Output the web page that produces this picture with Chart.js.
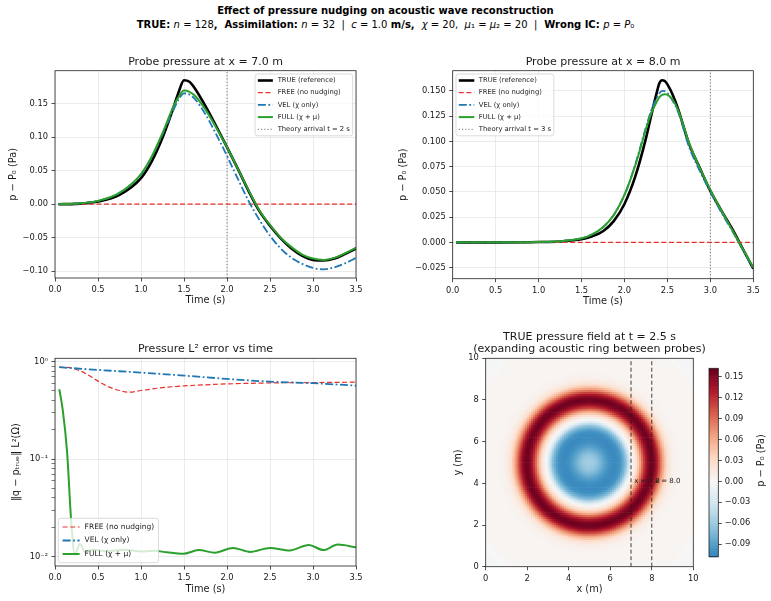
<!DOCTYPE html>
<html>
<head>
<meta charset="utf-8">
<script src="https://cdn.jsdelivr.net/npm/chart.js@4.4.1/dist/chart.umd.min.js"></script>
<style>
  body { margin: 0; background: #fff; width: 771px; height: 601px; position: relative; overflow: hidden; font-family: "DejaVu Sans", sans-serif; }
  canvas { position: absolute; }
  .sup { position: absolute; left: 0; width: 771px; text-align: center; font-size: 10px; line-height: 14px; font-weight: bold; white-space: pre; color: #000; }
  .m { font-weight: normal; }
</style>
</head>
<body>
<div class="sup" style="top:4px">Effect of pressure nudging on acoustic wave reconstruction</div>
<div class="sup" style="top:18px">TRUE: <span class="m"><i>n</i> = 128</span>,  Assimilation: <span class="m"><i>n</i> = 32  |  <i>c</i> = 1.0</span> m/s,  <span class="m"><i>χ</i> = 20,  <i>μ</i>₁ = <i>μ</i>₂ = 20  |</span>  Wrong IC: <span class="m"><i>p</i> = <i>P</i>₀</span></div>

<canvas id="probe7" width="390" height="270" style="left:0;top:40px"></canvas>
<canvas id="probe8" width="381" height="270" style="left:390px;top:40px"></canvas>
<canvas id="errL2" width="390" height="281" style="left:0;top:320px"></canvas>
<canvas id="field" width="379" height="281" style="left:400px;top:320px"></canvas>
<canvas id="cbar" width="81" height="220" style="left:690px;top:350px"></canvas>

<script>
// ---- probe at x = 7.0 m ----
const t7 = [0.04, 0.25, 0.5, 0.75, 1.0, 1.125, 1.25, 1.375, 1.4375, 1.5, 1.5625, 1.625, 1.75, 1.875, 2.0, 2.125, 2.25, 2.375, 2.5, 2.625, 2.75, 2.875, 3.0, 3.125, 3.25, 3.375, 3.5];
const true7 = [0.000, 0.0005, 0.004, 0.014, 0.039, 0.064, 0.099, 0.143, 0.167, 0.1848, 0.1825, 0.173, 0.146, 0.116, 0.085, 0.053, 0.020, -0.010, -0.032, -0.051, -0.066, -0.077, -0.083, -0.084, -0.081, -0.074, -0.066];
const vel7 = [0.000, 0.001, 0.005, 0.017, 0.044, 0.070, 0.104, 0.140, 0.156, 0.1652, 0.1635, 0.157, 0.134, 0.104, 0.072, 0.038, 0.005, -0.023, -0.047, -0.066, -0.080, -0.089, -0.095, -0.097, -0.094, -0.088, -0.080];
const full7 = [0.000, 0.001, 0.005, 0.017, 0.045, 0.071, 0.106, 0.145, 0.160, 0.1695, 0.1675, 0.162, 0.141, 0.114, 0.085, 0.053, 0.021, -0.009, -0.031, -0.050, -0.064, -0.075, -0.081, -0.083, -0.080, -0.073, -0.065];
const freeT7 = [0.04, 3.5];
const free7 = [0, 0];
const yTicks7 = [-0.10, -0.05, 0.00, 0.05, 0.10, 0.15];

// ---- probe at x = 8.0 m ----
const t8 = [0.04, 0.5, 1.0, 1.25, 1.5, 1.625, 1.75, 1.875, 2.0, 2.125, 2.25, 2.3125, 2.375, 2.40625, 2.4375, 2.46875, 2.5, 2.5625, 2.625, 2.75, 2.875, 3.0, 3.125, 3.25, 3.375, 3.5];
const true8 = [0, 0, 0.0003, 0.0009, 0.003, 0.006, 0.011, 0.021, 0.038, 0.065, 0.103, 0.126, 0.148, 0.1575, 0.1605, 0.1598, 0.1565, 0.146, 0.132, 0.098, 0.074, 0.051, 0.032, 0.014, -0.006, -0.026];
const vel8 = [0, 0, 0.0004, 0.0012, 0.004, 0.008, 0.015, 0.027, 0.047, 0.077, 0.114, 0.131, 0.143, 0.1477, 0.150, 0.1498, 0.148, 0.140, 0.129, 0.095, 0.071, 0.050, 0.030, 0.012, -0.007, -0.026];
const full8 = [0, 0, 0.0004, 0.0012, 0.004, 0.008, 0.015, 0.027, 0.047, 0.076, 0.112, 0.128, 0.139, 0.1437, 0.146, 0.1468, 0.1462, 0.141, 0.131, 0.099, 0.074, 0.052, 0.032, 0.013, -0.006, -0.025];
const freeT8 = [0.04, 3.5];
const free8 = [0, 0];
const yTicks8 = [-0.025, 0.000, 0.025, 0.050, 0.075, 0.100, 0.125, 0.150];

// ---- pressure L2 error ----
const errFreeT = [0.05, 0.15, 0.25, 0.35, 0.5, 0.625, 0.75, 0.85, 1.0, 1.25, 1.5, 1.75, 2.0, 2.5, 3.0, 3.5];
const errFree = [0.875, 0.87, 0.83, 0.76, 0.63, 0.55, 0.505, 0.485, 0.505, 0.54, 0.563, 0.578, 0.59, 0.604, 0.609, 0.615];
const errVelT = [0.05, 0.5, 1.0, 1.5, 2.0, 2.5, 3.0, 3.5];
const errVel = [0.875, 0.821, 0.771, 0.718, 0.664, 0.623, 0.600, 0.567];
const errFullT = [0.05, 0.09, 0.14, 0.19, 0.23, 0.29, 0.35, 0.45, 0.6, 0.8, 1.0, 1.15, 1.3, 1.49, 1.67, 1.86, 2.07, 2.27, 2.5, 2.73, 2.95, 3.12, 3.29, 3.5];
const errFull = [0.52, 0.32, 0.12, 0.022, 0.0105, 0.0135, 0.0112, 0.0118, 0.0114, 0.0118, 0.0113, 0.0115, 0.0111, 0.0107, 0.0117, 0.0110, 0.0123, 0.0112, 0.0123, 0.0116, 0.0132, 0.0117, 0.0133, 0.0125];
const logMajor = [0.01, 0.1, 1];
const logLabels = ['10\u207b\u00b2', '10\u207b\u00b9', '10\u2070'];
const logMinor = [0.02, 0.03, 0.04, 0.05, 0.06, 0.07, 0.08, 0.09, 0.2, 0.3, 0.4, 0.5, 0.6, 0.7, 0.8, 0.9];

// ---- TRUE field at t = 2.5 s (radial profile around the centre) ----
const fieldR = [0, 0.25, 0.5, 0.75, 1.0, 1.25, 1.5, 1.75, 1.9, 2.0, 2.1, 2.25, 2.4, 2.55, 2.7, 2.85, 3.0, 3.15, 3.3, 3.45, 3.6, 3.75, 3.9, 4.1, 4.4, 6.0, 6.6, 7.2];
const fieldP = [-0.056, -0.060, -0.072, -0.088, -0.100, -0.105, -0.098, -0.070, -0.035, -0.012, 0.002, 0.022, 0.050, 0.090, 0.125, 0.150, 0.160, 0.152, 0.125, 0.088, 0.055, 0.030, 0.015, 0.007, 0.004, 0.004, -0.003, -0.005];
const probeX = [7.0, 8.0];
const fieldTicks = [0, 2, 4, 6, 8, 10];
const cbTicks = [-0.09, -0.06, -0.03, 0.00, 0.03, 0.06, 0.09, 0.12, 0.15];
const timeTicks = [0, 0.5, 1.0, 1.5, 2.0, 2.5, 3.0, 3.5];

Chart.defaults.font.family = '"DejaVu Sans", sans-serif';
Chart.defaults.color = '#1a1a1a';
Chart.defaults.animation = false;
Chart.defaults.events = [];

const INK = '#1a1a1a';
const GRID = '#e6e6e6';
const pts = (xs, ys) => xs.map((x, i) => ({ x: x, y: ys[i] }));
const minus = d => v => (v < 0 ? '\u2212' : '') + Math.abs(v).toFixed(d);

function curve(label, data, color, width, dash, order) {
  return {
    label: label, data: data, borderColor: color, backgroundColor: color,
    borderWidth: width, borderDash: dash, order: order, showLine: true,
    pointRadius: 0, fill: false, cubicInterpolationMode: 'monotone'
  };
}
function vline(label, x, y0, y1) {
  const d = curve(label, pts([x, x], [y0, y1]), 'rgba(90,90,90,0.85)', 1, [1.2, 2], 0);
  d.cubicInterpolationMode = 'default';
  d.tension = 0;
  return d;
}

function axis(o) {
  return {
    type: o.type || 'linear', position: o.position, min: o.min, max: o.max,
    afterBuildTicks: s => { s.ticks = o.ticks.map(v => (typeof v === 'object' ? v : { value: v })); },
    afterFit: s => { if (o.width !== undefined) s.width = o.width; if (o.height !== undefined) s.height = o.height; },
    ticks: { callback: o.fmt, font: { size: 8.3 }, padding: o.tickPad || 3.5, maxRotation: 0, autoSkip: false, color: INK },
    grid: {
      drawOnChartArea: o.grid !== false, color: o.gridColor || GRID, lineWidth: 0.8,
      tickColor: '#222', tickLength: 3.5, tickWidth: o.tickWidth || 0.8
    },
    border: { display: false },
    title: { display: !!o.title, text: o.title, font: { size: 9.8 }, color: INK, padding: o.titlePad || 0 }
  };
}

const framePlugin = {
  id: 'frame',
  afterDraw(chart) {
    const { ctx, chartArea: a } = chart;
    ctx.save();
    ctx.strokeStyle = '#222';
    ctx.lineWidth = 0.8;
    ctx.strokeRect(a.left, a.top, a.right - a.left, a.bottom - a.top);
    ctx.restore();
  }
};

const boxLegend = {
  id: 'boxLegend',
  afterDraw(chart, args, o) {
    if (!o || !o.corner) return;
    const { ctx, chartArea: a } = chart;
    const items = chart.data.datasets.filter(d => d.label);
    ctx.save();
    ctx.font = o.size + 'px "DejaVu Sans"';
    const tw = Math.max(...items.map(d => ctx.measureText(d.label).width));
    const w = o.padX * 2 + o.handle + o.gap + tw;
    const h = o.first * 2 + (items.length - 1) * o.row;
    const x = o.corner[1] === 'r' ? a.right - o.inset - w : a.left + o.inset;
    const y = o.corner[0] === 'b' ? a.bottom - o.inset - h : a.top + o.inset;
    ctx.beginPath();
    ctx.roundRect(x, y, w, h, 2.5);
    ctx.fillStyle = 'rgba(255,255,255,0.8)';
    ctx.fill();
    ctx.strokeStyle = '#d2d2d2';
    ctx.lineWidth = 0.8;
    ctx.stroke();
    items.forEach((d, i) => {
      const cy = y + o.first + i * o.row;
      ctx.beginPath();
      ctx.setLineDash(d.borderDash || []);
      ctx.strokeStyle = d.borderColor;
      ctx.lineWidth = d.borderWidth;
      ctx.moveTo(x + o.padX, cy);
      ctx.lineTo(x + o.padX + o.handle, cy);
      ctx.stroke();
      ctx.setLineDash([]);
      ctx.fillStyle = INK;
      ctx.textBaseline = 'middle';
      ctx.fillText(d.label, x + o.padX + o.handle + o.gap, cy);
    });
    ctx.restore();
  }
};

function titleOpts(text, top, bottom, fullSize) {
  return { display: true, text: text, fullSize: !!fullSize, font: { size: 11, weight: 'normal', lineHeight: 1.15 }, color: INK, padding: { top: top, bottom: bottom } };
}

// ---------- probe x = 7 ----------
new Chart(document.getElementById('probe7'), {
  type: 'scatter',
  data: {
    datasets: [
      curve('TRUE (reference)', pts(t7, true7), '#000000', 2.6, [], 4),
      curve('FREE (no nudging)', pts(freeT7, free7), '#e8302c', 1.3, [5, 2.6], 3),
      curve('VEL (\u03c7 only)', pts(t7, vel7), '#1f77b4', 1.8, [8, 2.5, 1.8, 2.5], 2),
      curve('FULL (\u03c7 + \u03bc)', pts(t7, full7), '#2ca02c', 2.0, [], 1),
      vline('Theory arrival t = 2 s', 2, -0.110, 0.199)
    ]
  },
  options: {
    responsive: false,
    layout: { padding: { left: 0, right: 34, top: 0, bottom: 0 } },
    scales: {
      x: axis({ min: 0, max: 3.5, ticks: timeTicks, fmt: v => v.toFixed(1), height: 32, title: 'Time (s)', titlePad: { top: 0, bottom: 3.5 } }),
      y: axis({ min: -0.110, max: 0.199, ticks: yTicks7, fmt: minus(2), width: 55, title: 'p \u2212 P\u2080 (Pa)', titlePad: { top: 7.5, bottom: 0 } })
    },
    plugins: {
      legend: { display: false },
      tooltip: { enabled: false },
      title: titleOpts('Probe pressure at x = 7.0 m', 16, 2.05),
      boxLegend: { corner: 'tr', size: 6.8, row: 12.2, first: 6.5, padX: 2.8, handle: 15, gap: 4.8, inset: 3.3 }
    }
  },
  plugins: [framePlugin, boxLegend]
});

// ---------- probe x = 8 ----------
new Chart(document.getElementById('probe8'), {
  type: 'scatter',
  data: {
    datasets: [
      curve('TRUE (reference)', pts(t8, true8), '#000000', 2.6, [], 4),
      curve('FREE (no nudging)', pts(freeT8, free8), '#e8302c', 1.3, [5, 2.6], 3),
      curve('VEL (\u03c7 only)', pts(t8, vel8), '#1f77b4', 1.8, [8, 2.5, 1.8, 2.5], 2),
      curve('FULL (\u03c7 + \u03bc)', pts(t8, full8), '#2ca02c', 2.0, [], 1),
      vline('Theory arrival t = 3 s', 3, -0.036, 0.170)
    ]
  },
  options: {
    responsive: false,
    layout: { padding: { left: 0, right: 17.7, top: 0, bottom: 0 } },
    scales: {
      x: axis({ min: 0, max: 3.5, ticks: timeTicks, fmt: v => v.toFixed(1), height: 31.3, title: 'Time (s)', titlePad: { top: 0, bottom: 2.5 } }),
      y: axis({ min: -0.036, max: 0.170, ticks: yTicks8, fmt: minus(3), width: 62.7, title: 'p \u2212 P\u2080 (Pa)', titlePad: { top: 7.5, bottom: 0 } })
    },
    plugins: {
      legend: { display: false },
      tooltip: { enabled: false },
      title: titleOpts('Probe pressure at x = 8.0 m', 16, 2.05),
      boxLegend: { corner: 'tl', size: 6.8, row: 12.2, first: 6.5, padX: 2.8, handle: 15.5, gap: 4.5, inset: 3.3 }
    }
  },
  plugins: [framePlugin, boxLegend]
});

// ---------- L2 error ----------
const logTickObjs = logMajor.map(v => ({ value: v, major: true })).concat(logMinor.map(v => ({ value: v, major: false })));
const errY = axis({
  type: 'logarithmic', min: 0.00803, max: 1.08, ticks: logTickObjs,
  fmt: v => { const i = logMajor.indexOf(v); return i >= 0 ? logLabels[i] : ''; },
  width: 55, title: '\u2016q \u2212 p\u209c\u1d63\u1d64\u2091\u2016 L\u00b2(\u03a9)', titlePad: { top: 10.9, bottom: 0 }
});
errY.grid.color = c => (c.tick && c.tick.major ? GRID : 'rgba(0,0,0,0)');
errY.grid.tickWidth = c => (c.tick && c.tick.major ? 0.8 : 0.6);

new Chart(document.getElementById('errL2'), {
  type: 'scatter',
  data: {
    datasets: [
      curve('FREE (no nudging)', pts(errFreeT, errFree), '#e8302c', 1.2, [5, 2.6], 3),
      curve('VEL (\u03c7 only)', pts(errVelT, errVel), '#1f77b4', 1.8, [8, 2.5, 1.8, 2.5], 2),
      curve('FULL (\u03c7 + \u03bc)', pts(errFullT, errFull), '#2ca02c', 2.0, [], 1)
    ]
  },
  options: {
    responsive: false,
    layout: { padding: { left: 0, right: 34, top: 0, bottom: 0 } },
    scales: {
      x: axis({ min: 0, max: 3.5, ticks: timeTicks, fmt: v => v.toFixed(1), height: 35, title: 'Time (s)', titlePad: { top: 0, bottom: 5.2 } }),
      y: errY
    },
    plugins: {
      legend: { display: false },
      tooltip: { enabled: false },
      title: titleOpts('Pressure L\u00b2 error vs time', 22.7, 2.95),
      boxLegend: { corner: 'bl', size: 7.5, row: 13.5, first: 8.7, padX: 4.3, handle: 17, gap: 5, inset: 3.3 }
    }
  },
  plugins: [framePlugin, boxLegend]
});

// ---------- TRUE pressure field ----------
const RDBU = [[5, 48, 97], [33, 102, 172], [67, 147, 195], [146, 197, 222], [209, 229, 240], [247, 247, 247],
              [253, 219, 199], [244, 165, 130], [214, 96, 77], [178, 24, 43], [103, 0, 31]];
const VMAX = 0.162;
function rdbu(p) {
  const u = Math.min(1, Math.max(0, (p + VMAX) / (2 * VMAX))) * 10;
  const i = Math.min(9, Math.floor(u));
  const f = u - i;
  const c = RDBU[i].map((a, k) => Math.round(a + (RDBU[i + 1][k] - a) * f));
  return 'rgb(' + c.join(',') + ')';
}
function radial(r) {
  if (r >= fieldR[fieldR.length - 1]) return fieldP[fieldP.length - 1];
  let k = 1;
  while (fieldR[k] < r) k++;
  const f = (r - fieldR[k - 1]) / (fieldR[k] - fieldR[k - 1]);
  return fieldP[k - 1] + (fieldP[k] - fieldP[k - 1]) * f;
}
const gridN = 100, gridStep = 0.1;
const cells = [], cellColors = [];
for (let i = 0; i < gridN; i++) {
  for (let j = 0; j < gridN; j++) {
    const x = (i + 0.5) * gridStep, y = (j + 0.5) * gridStep;
    cells.push({ x: x, y: y });
    cellColors.push(rdbu(radial(Math.hypot(x - 5, y - 5))));
  }
}

const probeLabels = {
  id: 'probeLabels',
  afterDatasetsDraw(chart) {
    const { ctx, scales: { x, y } } = chart;
    ctx.save();
    ctx.font = '7px "DejaVu Sans"';
    ctx.fillStyle = '#222';
    ctx.textBaseline = 'middle';
    probeX.forEach(px => ctx.fillText('x = ' + px.toFixed(1), x.getPixelForValue(px + 0.15), y.getPixelForValue(4.1)));
    ctx.restore();
  }
};

// canvas is centred on the axes (empty right-hand scale balances the left one)
// so the full-width two-line title sits over the image
new Chart(document.getElementById('field'), {
  type: 'scatter',
  data: {
    datasets: [
      {
        data: cells, backgroundColor: cellColors, borderWidth: 0, pointBorderWidth: 0, pointStyle: 'rect', order: 2,
        pointRadius: c => {
          const s = c.chart.scales.x;
          return (Math.abs(s.getPixelForValue(gridStep) - s.getPixelForValue(0)) + 0.7) / Math.SQRT2;
        }
      }
    ].concat(probeX.map(px => ({
      data: pts([px, px], [0, 10]), showLine: true, pointRadius: 0, borderColor: 'rgba(30,30,30,0.85)',
      borderWidth: 1, borderDash: [4, 2.5], order: 1, tension: 0
    })))
  },
  options: {
    responsive: false,
    layout: { padding: 0 },
    scales: {
      x: axis({ min: 0, max: 10, ticks: fieldTicks, fmt: v => String(v), height: 34.3, grid: false, title: 'x (m)', titlePad: { top: 0, bottom: 5.9 } }),
      y: axis({ min: 0, max: 10, ticks: fieldTicks, fmt: v => String(v), width: 85.7, grid: false, title: 'y (m)', titlePad: { top: 52.4, bottom: 0 } }),
      spacer: {
        type: 'linear', position: 'right', min: 0, max: 10,
        ticks: { display: false }, grid: { display: false, drawTicks: false }, border: { display: false },
        afterFit: s => { s.width = 85.7; }
      }
    },
    plugins: {
      legend: { display: false },
      tooltip: { enabled: false },
      title: titleOpts(['TRUE pressure field at t = 2.5 s', '(expanding acoustic ring between probes)'], 10.4, 2.6, true)
    }
  },
  plugins: [probeLabels, framePlugin]
});

// ---------- colorbar ----------
const cbMin = -0.108, cbMax = 0.162;
const cbFill = {
  id: 'cbFill',
  beforeDatasetsDraw(chart) {
    const { ctx, chartArea: a, scales: { y } } = chart;
    const n = 120;
    ctx.save();
    for (let k = 0; k < n; k++) {
      const v0 = cbMin + (cbMax - cbMin) * k / n, v1 = cbMin + (cbMax - cbMin) * (k + 1) / n;
      const y0 = y.getPixelForValue(v0), y1 = y.getPixelForValue(v1);
      ctx.fillStyle = rdbu((v0 + v1) / 2);
      ctx.fillRect(a.left, y1, a.right - a.left, y0 - y1 + 0.6);
    }
    ctx.restore();
  },
  afterDraw(chart) {
    const { ctx, chartArea: a } = chart;
    ctx.save();
    ctx.translate(a.right + 43.4, (a.top + a.bottom) / 2 - 2);
    ctx.rotate(-Math.PI / 2);
    ctx.font = '9.8px "DejaVu Sans"';
    ctx.fillStyle = INK;
    ctx.textAlign = 'center';
    ctx.textBaseline = 'middle';
    ctx.fillText('p \u2212 P\u2080 (Pa)', 0, 0);
    ctx.restore();
  }
};

new Chart(document.getElementById('cbar'), {
  type: 'scatter',
  data: { datasets: [{ data: [] }] },
  options: {
    responsive: false,
    layout: { padding: { left: 19, right: 0, top: 18.3, bottom: 13.3 } },
    scales: {
      x: { type: 'linear', display: false, min: 0, max: 1 },
      y: axis({ position: 'right', min: cbMin, max: cbMax, ticks: cbTicks, fmt: minus(2), width: 52.7, grid: false, tickPad: 3 })
    },
    plugins: { legend: { display: false }, tooltip: { enabled: false } }
  },
  plugins: [cbFill, framePlugin]
});
</script>
</body>
</html>
